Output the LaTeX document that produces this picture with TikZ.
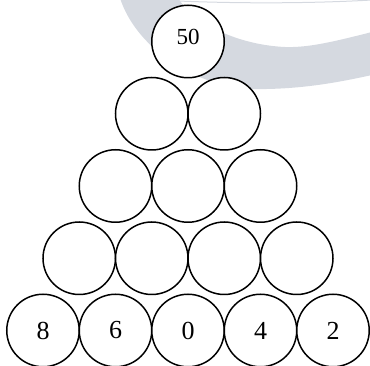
\documentclass[tikz,border=0pt]{standalone}
\usepackage{fontspec}
\setmainfont{Liberation Serif}
\definecolor{bandgray}{HTML}{D5D9E0}
\begin{document}
\begin{tikzpicture}[x=1pt,y=-1pt,
  ball/.style={circle,draw=black,line width=1.5pt,fill=white,minimum size=72.5pt,inner sep=0pt,font=\fontsize{26}{26}\selectfont},
  topball/.style={ball,font=\fontsize{22}{22}\selectfont}]
\useasboundingbox (0,0) rectangle (370,366);
% background band
\fill[bandgray] (120,-2) .. controls (135,45) and (190,85) .. (250,89)
  .. controls (300,90) and (340,82) .. (372,75) -- (372,32)
  .. controls (340,40) and (310,48) .. (285,47)
  .. controls (240,45) and (195,25) .. (178,-2) -- cycle;
\draw[bandgray,line width=1pt] (178,1) .. controls (250,4) and (320,3) .. (372,0);
% row 1
\node[topball] (n11) at (188,41.5) {};
\node[font=\fontsize{23}{23}\selectfont] (t50) at (188,36.8) {50};
% row 2
\node[ball] (n21) at (151.75,113.75) {};
\node[ball] (n22) at (224.25,113.75) {};
% row 3
\node[ball] (n31) at (115.5,186) {};
\node[ball] (n32) at (188,186) {};
\node[ball] (n33) at (260.5,186) {};
% row 4
\node[ball] (n41) at (79.25,258.25) {};
\node[ball] (n42) at (151.75,258.25) {};
\node[ball] (n43) at (224.25,258.25) {};
\node[ball] (n44) at (296.75,258.25) {};
% row 5
\node[ball] (n51) at (43,330.5) {8};
\node[ball] (n52) at (115.5,330.5) {6};
\node[ball] (n53) at (188,330.5) {0};
\node[ball] (n54) at (260.5,330.5) {4};
\node[ball] (n55) at (333,330.5) {2};
\end{tikzpicture}
\end{document}
